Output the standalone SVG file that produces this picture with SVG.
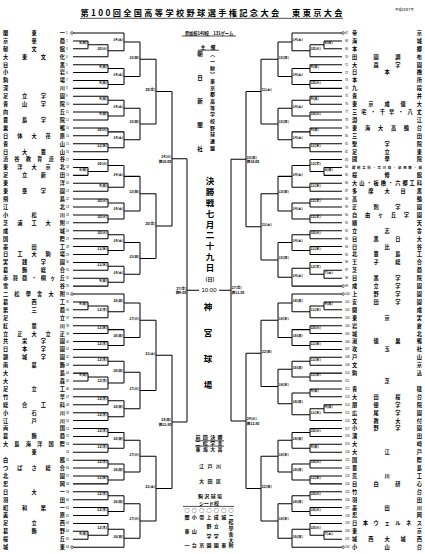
<svg xmlns="http://www.w3.org/2000/svg" width="425" height="554" viewBox="0 0 425 554">
<style>
.c{fill:none;stroke:#000;stroke-width:1}
.u{fill:none;stroke:#000;stroke-width:.7}
text{font-family:"Noto Sans CJK JP","Noto Sans CJK SC",sans-serif;fill:#000}
.n{font-size:5.2px;font-weight:700}
.m{text-anchor:middle}
.no{font-family:"Liberation Sans",sans-serif;font-size:2.8px}
.l{font-size:3.4px;font-weight:700}
.e{text-anchor:end}
.sd{fill:#fff;stroke:#000;stroke-width:.6}
.t{font-weight:700;text-anchor:middle}
.vt{font-weight:700;writing-mode:vertical-rl}
.s{font-size:5px;font-weight:700;text-anchor:middle}
</style>
<rect width="425" height="554" fill="#fff"/>
<g id="title">
<text class="t" x="211.5" y="16" style="font-size:8.2px" textLength="262">第100回全国高等学校野球選手権記念大会　東東京大会</text>
<path class="u" d="M80 18.3H343"/>
<text x="395" y="11" style="font-size:3.3px">平成30年7月</text>
</g>
<g id="bracket" transform="matrix(1 0 0 1.0141 0 1.563)">
<g id="connectors">
<path class="c" d="M73 31H124M73 38.8H88M73 46.6H88M73 54.4H108M73 62.2H108M73 70H108M73 77.8H108M73 85.6H108M73 93.4H108M73 101.2H108M73 109H108M73 116.8H108M73 124.6H108M73 132.4H108M73 140.2H108M73 148H108M73 155.8H108M73 163.6H88M73 171.4H88M73 179.2H108M73 187H108M73 194.8H108M73 202.6H108M73 210.4H108M73 218.2H108M73 226H108M73 233.8H108M73 241.6H108M73 249.4H108M73 257.2H108M73 265H108M73 272.8H108M73 280.6H108M73 288.4H124M73 296.2H88M73 304H88M73 311.8H108M73 319.6H108M73 327.4H108M73 335.2H108M73 343H108M73 350.8H108M73 358.6H108M73 366.4H88M73 374.2H88M73 382H108M73 389.8H108M73 397.6H108M73 405.4H108M73 413.2H108M73 421H108M73 428.8H108M73 436.6H108M73 444.4H108M73 452.2H108M73 460H108M73 467.8H108M73 475.6H108M73 483.4H108M73 491.2H108M73 499H108M73 506.8H108M73 514.6H108M73 522.4H88M73 530.2H88M73 538H124"/>
<path class="c" d="M88 38.8V46.6M88 42.7H108M88 163.6V171.4M88 167.5H108M88 296.2V304M88 300.1H108M88 366.4V374.2M88 370.3H108M88 522.4V530.2M88 526.3H108"/>
<path class="c" d="M108 42.7V54.4M108 48.55H124M108 62.2V70M108 66.1H124M108 77.8V85.6M108 81.7H124M108 93.4V101.2M108 97.3H124M108 109V116.8M108 112.9H124M108 124.6V132.4M108 128.5H124M108 140.2V148M108 144.1H124M108 155.8V167.5M108 161.65H124M108 179.2V187M108 183.1H124M108 194.8V202.6M108 198.7H124M108 210.4V218.2M108 214.3H124M108 226V233.8M108 229.9H124M108 241.6V249.4M108 245.5H124M108 257.2V265M108 261.1H124M108 272.8V280.6M108 276.7H124M108 300.1V311.8M108 305.95H124M108 319.6V327.4M108 323.5H124M108 335.2V343M108 339.1H124M108 350.8V358.6M108 354.7H124M108 370.3V382M108 376.15H124M108 389.8V397.6M108 393.7H124M108 405.4V413.2M108 409.3H124M108 421V428.8M108 424.9H124M108 436.6V444.4M108 440.5H124M108 452.2V460M108 456.1H124M108 467.8V475.6M108 471.7H124M108 483.4V491.2M108 487.3H124M108 499V506.8M108 502.9H124M108 514.6V526.3M108 520.45H124"/>
<path class="c" d="M124 31V48.55M124 39.78H140M124 66.1V81.7M124 73.9H140M124 97.3V112.9M124 105.1H140M124 128.5V144.1M124 136.3H140M124 161.65V183.1M124 172.38H140M124 198.7V214.3M124 206.5H140M124 229.9V245.5M124 237.7H140M124 261.1V276.7M124 268.9H140M124 288.4V305.95M124 297.18H140M124 323.5V339.1M124 331.3H140M124 354.7V376.15M124 365.43H140M124 393.7V409.3M124 401.5H140M124 424.9V440.5M124 432.7H140M124 456.1V471.7M124 463.9H140M124 487.3V502.9M124 495.1H140M124 520.45V538M124 529.23H140"/>
<path class="c" d="M140 39.78V73.9M140 56.84H156M140 105.1V136.3M140 120.7H156M140 172.38V206.5M140 189.44H156M140 237.7V268.9M140 253.3H156M140 297.18V331.3M140 314.24H156M140 365.43V401.5M140 383.47H156M140 432.7V463.9M140 448.3H156M140 495.1V529.23M140 512.17H156"/>
<path class="c" d="M156 56.84V120.7M156 88.77H172M156 189.44V253.3M156 221.37H172M156 314.24V383.47M156 348.86H172M156 448.3V512.17M156 480.24H172M172 88.77V221.37M172 155.07H187M172 348.86V480.24M172 414.55H187M187 155.07V414.55M187 284.7H231"/>
<path class="c" d="M342 31H292M342 38.8H324M342 46.6H324M342 54.4H310M342 62.2H310M342 70H310M342 77.8H310M342 85.6H310M342 93.4H310M342 101.2H310M342 109H310M342 116.8H310M342 124.6H310M342 132.4H310M342 140.2H310M342 148H310M342 155.8H310M342 163.6H324M342 171.4H324M342 179.2H310M342 187H310M342 194.8H310M342 202.6H310M342 210.4H310M342 218.2H310M342 226H310M342 233.8H310M342 241.6H310M342 249.4H310M342 257.2H310M342 265H324M342 272.8H324M342 280.6H292M342 288.4H292M342 296.2H324M342 304H324M342 311.8H310M342 319.6H310M342 327.4H310M342 335.2H310M342 343H310M342 350.8H310M342 358.6H310M342 366.4H310M342 374.2H310M342 382H310M342 389.8H310M342 397.6H324M342 405.4H324M342 413.2H310M342 421H310M342 428.8H310M342 436.6H310M342 444.4H310M342 452.2H310M342 460H310M342 467.8H310M342 475.6H310M342 483.4H310M342 491.2H310M342 499H310M342 506.8H310M342 514.6H310M342 522.4H324M342 530.2H324M342 538H292"/>
<path class="c" d="M324 38.8V46.6M324 42.7H310M324 163.6V171.4M324 167.5H310M324 265V272.8M324 268.9H310M324 296.2V304M324 300.1H310M324 397.6V405.4M324 401.5H310M324 522.4V530.2M324 526.3H310"/>
<path class="c" d="M310 42.7V54.4M310 48.55H292M310 62.2V70M310 66.1H292M310 77.8V85.6M310 81.7H292M310 93.4V101.2M310 97.3H292M310 109V116.8M310 112.9H292M310 124.6V132.4M310 128.5H292M310 140.2V148M310 144.1H292M310 155.8V167.5M310 161.65H292M310 179.2V187M310 183.1H292M310 194.8V202.6M310 198.7H292M310 210.4V218.2M310 214.3H292M310 226V233.8M310 229.9H292M310 241.6V249.4M310 245.5H292M310 257.2V268.9M310 263.05H292M310 300.1V311.8M310 305.95H292M310 319.6V327.4M310 323.5H292M310 335.2V343M310 339.1H292M310 350.8V358.6M310 354.7H292M310 366.4V374.2M310 370.3H292M310 382V389.8M310 385.9H292M310 401.5V413.2M310 407.35H292M310 421V428.8M310 424.9H292M310 436.6V444.4M310 440.5H292M310 452.2V460M310 456.1H292M310 467.8V475.6M310 471.7H292M310 483.4V491.2M310 487.3H292M310 499V506.8M310 502.9H292M310 514.6V526.3M310 520.45H292"/>
<path class="c" d="M292 31V48.55M292 39.78H278M292 66.1V81.7M292 73.9H278M292 97.3V112.9M292 105.1H278M292 128.5V144.1M292 136.3H278M292 161.65V183.1M292 172.38H278M292 198.7V214.3M292 206.5H278M292 229.9V245.5M292 237.7H278M292 263.05V280.6M292 271.83H278M292 288.4V305.95M292 297.18H278M292 323.5V339.1M292 331.3H278M292 354.7V370.3M292 362.5H278M292 385.9V407.35M292 396.63H278M292 424.9V440.5M292 432.7H278M292 456.1V471.7M292 463.9H278M292 487.3V502.9M292 495.1H278M292 520.45V538M292 529.23H278"/>
<path class="c" d="M278 39.78V73.9M278 56.84H261M278 105.1V136.3M278 120.7H261M278 172.38V206.5M278 189.44H261M278 237.7V271.83M278 254.77H261M278 297.18V331.3M278 314.24H261M278 362.5V396.63M278 379.57H261M278 432.7V463.9M278 448.3H261M278 495.1V529.23M278 512.17H261"/>
<path class="c" d="M261 56.84V120.7M261 88.77H246M261 189.44V254.77M261 222.1H246M261 314.24V379.57M261 346.9H246M261 448.3V512.17M261 480.24H246M246 88.77V222.1M246 155.44H231M246 346.9V480.24M246 413.57H231M231 155.44V413.57"/>
</g>
<g id="labels">
<text class="l e" x="87.2" y="42.1">8(日)</text><text class="l e" x="87.2" y="166.9">8(日)</text><text class="l e" x="87.2" y="299.5">9(月)</text><text class="l e" x="87.2" y="369.7">9(月)</text><text class="l e" x="87.2" y="525.7">9(月)</text>
<text class="l e" x="107.2" y="47.95">10(火)</text><text class="l e" x="107.2" y="65.5">9(月)</text><text class="l e" x="107.2" y="81.1">9(月)</text><text class="l e" x="107.2" y="96.7">9(月)</text><text class="l e" x="107.2" y="112.3">9(月)</text><text class="l e" x="107.2" y="127.9">10(火)</text><text class="l e" x="107.2" y="143.5">11(水)</text><text class="l e" x="107.2" y="161.05">10(火)</text><text class="l e" x="107.2" y="182.5">9(月)</text><text class="l e" x="107.2" y="198.1">10(火)</text><text class="l e" x="107.2" y="213.7">10(火)</text><text class="l e" x="107.2" y="229.3">10(火)</text><text class="l e" x="107.2" y="244.9">11(水)</text><text class="l e" x="107.2" y="260.5">11(水)</text><text class="l e" x="107.2" y="276.1">9(月)</text><text class="l e" x="107.2" y="305.35">12(木)</text><text class="l e" x="107.2" y="322.9">11(水)</text><text class="l e" x="107.2" y="338.5">12(木)</text><text class="l e" x="107.2" y="354.1">12(木)</text><text class="l e" x="107.2" y="375.55">12(木)</text><text class="l e" x="107.2" y="393.1">12(木)</text><text class="l e" x="107.2" y="408.7">12(木)</text><text class="l e" x="107.2" y="424.3">12(木)</text><text class="l e" x="107.2" y="439.9">12(木)</text><text class="l e" x="107.2" y="455.5">12(木)</text><text class="l e" x="107.2" y="471.1">11(水)</text><text class="l e" x="107.2" y="486.7">12(木)</text><text class="l e" x="107.2" y="502.3">12(木)</text><text class="l e" x="107.2" y="519.85">12(木)</text>
<text class="l e" x="123.2" y="39.18">14(土)</text><text class="l e" x="123.2" y="73.3">14(土)</text><text class="l e" x="123.2" y="104.5">14(土)</text><text class="l e" x="123.2" y="135.7">14(土)</text><text class="l e" x="123.2" y="171.78">14(土)</text><text class="l e" x="123.2" y="205.9">14(土)</text><text class="l e" x="123.2" y="237.1">14(土)</text><text class="l e" x="123.2" y="268.3">14(土)</text><text class="l e" x="123.2" y="296.58">16(月)</text><text class="l e" x="123.2" y="330.7">16(月)</text><text class="l e" x="123.2" y="364.83">16(月)</text><text class="l e" x="123.2" y="400.9">16(月)</text><text class="l e" x="123.2" y="432.1">16(月)</text><text class="l e" x="123.2" y="463.3">16(月)</text><text class="l e" x="123.2" y="494.5">16(月)</text><text class="l e" x="123.2" y="528.63">16(月)</text>
<text class="l e" x="139.2" y="56.24">15(日)</text><text class="l e" x="139.2" y="120.1">15(日)</text><text class="l e" x="139.2" y="188.84">15(日)</text><text class="l e" x="139.2" y="252.7">15(日)</text><text class="l e" x="139.2" y="313.64">17(火)</text><text class="l e" x="139.2" y="382.87">17(火)</text><text class="l e" x="139.2" y="447.7">17(火)</text><text class="l e" x="139.2" y="511.57">17(火)</text>
<text class="l e" x="155.2" y="88.17">20(金)</text><text class="l e" x="155.2" y="220.77">20(金)</text><text class="l e" x="155.2" y="348.26">21(土)</text><text class="l e" x="155.2" y="479.64">21(土)</text>
<text class="l e" x="171.2" y="154.47">24(火)</text><text class="l e" x="171.2" y="158.87">神10:00</text><text class="l e" x="171.2" y="413.95">23(月)</text><text class="l e" x="171.2" y="418.35">神12:30</text>
<text class="l e" x="186.2" y="284.1">27(金)</text><text class="l e" x="186.2" y="288.5">神9:00</text>
<text class="l" x="324.8" y="42.1">8(日)</text><text class="l" x="324.8" y="166.9">8(日)</text><text class="l" x="324.8" y="268.3">7(土)</text><text class="l" x="324.8" y="299.5">9(月)</text><text class="l" x="324.8" y="400.9">9(月)</text><text class="l" x="324.8" y="525.7">7(土)</text>
<text class="l" x="310.8" y="47.95">10(火)</text><text class="l" x="310.8" y="65.5">9(月)</text><text class="l" x="310.8" y="81.1">10(火)</text><text class="l" x="310.8" y="96.7">9(月)</text><text class="l" x="310.8" y="112.3">10(火)</text><text class="l" x="310.8" y="127.9">9(月)</text><text class="l" x="310.8" y="143.5">11(水)</text><text class="l" x="310.8" y="161.05">12(木)</text><text class="l" x="310.8" y="182.5">11(水)</text><text class="l" x="310.8" y="198.1">12(木)</text><text class="l" x="310.8" y="213.7">12(木)</text><text class="l" x="310.8" y="229.3">10(火)</text><text class="l" x="310.8" y="244.9">11(水)</text><text class="l" x="310.8" y="262.45">12(木)</text><text class="l" x="310.8" y="305.35">11(水)</text><text class="l" x="310.8" y="322.9">10(火)</text><text class="l" x="310.8" y="338.5">11(水)</text><text class="l" x="310.8" y="354.1">11(水)</text><text class="l" x="310.8" y="369.7">11(水)</text><text class="l" x="310.8" y="385.3">9(月)</text><text class="l" x="310.8" y="406.75">11(水)</text><text class="l" x="310.8" y="424.3">10(火)</text><text class="l" x="310.8" y="439.9">9(月)</text><text class="l" x="310.8" y="455.5">10(火)</text><text class="l" x="310.8" y="471.1">11(水)</text><text class="l" x="310.8" y="486.7">10(火)</text><text class="l" x="310.8" y="502.3">10(火)</text><text class="l" x="310.8" y="519.85">10(火)</text>
<text class="l" x="292.8" y="39.18">14(土)</text><text class="l" x="292.8" y="73.3">14(土)</text><text class="l" x="292.8" y="104.5">14(土)</text><text class="l" x="292.8" y="135.7">14(土)</text><text class="l" x="292.8" y="171.78">14(土)</text><text class="l" x="292.8" y="205.9">14(土)</text><text class="l" x="292.8" y="237.1">14(土)</text><text class="l" x="292.8" y="271.23">14(土)</text><text class="l" x="292.8" y="296.58">16(月)</text><text class="l" x="292.8" y="330.7">16(月)</text><text class="l" x="292.8" y="361.9">16(月)</text><text class="l" x="292.8" y="396.03">16(月)</text><text class="l" x="292.8" y="432.1">16(月)</text><text class="l" x="292.8" y="463.3">16(月)</text><text class="l" x="292.8" y="494.5">16(月)</text><text class="l" x="292.8" y="528.63">16(月)</text>
<text class="l" x="278.8" y="56.24">15(日)</text><text class="l" x="278.8" y="120.1">15(日)</text><text class="l" x="278.8" y="188.84">15(日)</text><text class="l" x="278.8" y="254.17">15(日)</text><text class="l" x="278.8" y="313.64">18(水)</text><text class="l" x="278.8" y="378.97">18(水)</text><text class="l" x="278.8" y="447.7">18(水)</text><text class="l" x="278.8" y="511.57">18(水)</text>
<text class="l" x="261.8" y="88.17">21(土)</text><text class="l" x="261.8" y="221.5">21(土)</text><text class="l" x="261.8" y="346.3">22(日)</text><text class="l" x="261.8" y="479.64">22(日)</text>
<text class="l" x="246.8" y="154.84">23(月)</text><text class="l" x="246.8" y="159.24">神10:00</text><text class="l" x="246.8" y="412.97">24(火)</text><text class="l" x="246.8" y="417.37">神12:30</text>
<text class="l" x="231.8" y="283.9">27(金)</text><text class="l" x="231.8" y="288.3">神11:30</text>
</g>
<g id="n1" transform="translate(0 31)"><circle class="sd" cx="72" r="1.3"/><text class="n" x="3" y="1.9" textLength="62">関東一</text><text class="no" x="66" y="1">1</text></g>
<g id="n2" transform="translate(0 38.8)"><text class="n" x="3" y="1.9" textLength="62">京華商</text><text class="no" x="66" y="1">2</text></g>
<g id="n3" transform="translate(0 46.6)"><text class="n" x="3" y="1.9" textLength="62">郁文館</text><text class="no" x="66" y="1">3</text></g>
<g id="n4" transform="translate(0 54.4)"><text class="n" x="3" y="1.9" textLength="62">大東文化</text><text class="no" x="66" y="1">4</text></g>
<g id="n5" transform="translate(0 62.2)"><text class="n" x="3" y="1.9" textLength="62">目黒</text><text class="no" x="66" y="1">5</text></g>
<g id="n6" transform="translate(0 70)"><text class="n" x="3" y="1.9" textLength="62">小岩</text><text class="no" x="66" y="1">6</text></g>
<g id="n7" transform="translate(0 77.8)"><text class="n" x="3" y="1.9" textLength="62">駒場</text><text class="no" x="66" y="1">7</text></g>
<g id="n8" transform="translate(0 85.6)"><text class="n" x="3" y="1.9" textLength="62">深川</text><text class="no" x="66" y="1">8</text></g>
<g id="n9" transform="translate(0 93.4)"><text class="n" x="3" y="1.9" textLength="62">足立学園</text><text class="no" x="66" y="1">9</text></g>
<g id="n10" transform="translate(0 101.2)"><text class="n" x="3" y="1.9" textLength="62">青山学院</text><text class="no" x="66" y="1">10</text></g>
<g id="n11" transform="translate(0 109)"><text class="n" x="3" y="1.9" textLength="62">向丘</text><text class="no" x="66" y="1">11</text></g>
<g id="n12" transform="translate(0 116.8)"><text class="n" x="3" y="1.9" textLength="62">豊島学院</text><text class="no" x="66" y="1">12</text></g>
<g id="n13" transform="translate(0 124.6)"><text class="n" x="3" y="1.9" textLength="62">巣鴨</text><text class="no" x="66" y="1">13</text></g>
<g id="n14" transform="translate(0 132.4)"><text class="n" x="3" y="1.9" textLength="62">日体大荏原</text><text class="no" x="66" y="1">14</text></g>
<g id="n15" transform="translate(0 140.2)"><text class="n" x="3" y="1.9" textLength="62">青山</text><text class="no" x="66" y="1">15</text></g>
<g id="n16" transform="translate(0 148)"><text class="n" x="3" y="1.9" textLength="62">日大豊山</text><text class="no" x="66" y="1">16</text></g>
<g id="n17" transform="translate(0 155.8)"><text class="n" x="3" y="1.9" textLength="62">渋谷教育渋谷</text><text class="no" x="66" y="1">17</text></g>
<g id="n18" transform="translate(0 163.6)"><text class="n" x="3" y="1.9" textLength="62">東洋大京北</text><text class="no" x="66" y="1">18</text></g>
<g id="n19" transform="translate(0 171.4)"><text class="n" x="3" y="1.9" textLength="62">足立新田</text><text class="no" x="66" y="1">19</text></g>
<g id="n20" transform="translate(0 179.2)"><text class="n" x="3" y="1.9" textLength="62">東洋</text><text class="no" x="66" y="1">20</text></g>
<g id="n21" transform="translate(0 187)"><text class="n" x="3" y="1.9" textLength="62">東亜学園</text><text class="no" x="66" y="1">21</text></g>
<g id="n22" transform="translate(0 194.8)"><text class="n" x="3" y="1.9" textLength="62">飛鳥</text><text class="no" x="66" y="1">22</text></g>
<g id="n23" transform="translate(0 202.6)"><text class="n" x="3" y="1.9" textLength="62">江北</text><text class="no" x="66" y="1">23</text></g>
<g id="n24" transform="translate(0 210.4)"><text class="n" x="3" y="1.9" textLength="62">小松川</text><text class="no" x="66" y="1">24</text></g>
<g id="n25" transform="translate(0 218.2)"><text class="n" x="3" y="1.9" textLength="62">芝浦工大附</text><text class="no" x="66" y="1">25</text></g>
<g id="n26" transform="translate(0 226)"><text class="n" x="3" y="1.9" textLength="62">成城</text><text class="no" x="66" y="1">26</text></g>
<g id="n27" transform="translate(0 233.8)"><text class="n" x="3" y="1.9" textLength="62">国際</text><text class="no" x="66" y="1">27</text></g>
<g id="n28" transform="translate(0 241.6)"><text class="n" x="3" y="1.9" textLength="62">墨田工</text><text class="no" x="66" y="1">28</text></g>
<g id="n29" transform="translate(0 249.4)"><text class="n" x="3" y="1.9" textLength="62">日工大駒場</text><text class="no" x="66" y="1">29</text></g>
<g id="n30" transform="translate(0 257.2)"><text class="n" x="3" y="1.9" textLength="62">実践学園</text><text class="no" x="66" y="1">30</text></g>
<g id="n31" transform="translate(0 265)"><text class="n" x="3" y="1.9" textLength="62">葛飾総合</text><text class="no" x="66" y="1">31</text></g>
<g id="n32" transform="translate(0 272.8)"><text class="n" x="3" y="1.9" textLength="62">赤羽商・桐ヶ丘</text><text class="no" x="66" y="1">32</text></g>
<g id="n33" transform="translate(0 280.6)"><text class="n" x="3" y="1.9" textLength="62">雪谷</text><text class="no" x="66" y="1">33</text></g>
<g id="n34" transform="translate(0 288.4)"><circle class="sd" cx="72" r="1.3"/><text class="n" x="3" y="1.9" textLength="62">二松學舍大附</text><text class="no" x="66" y="1">34</text></g>
<g id="n35" transform="translate(0 296.2)"><text class="n" x="3" y="1.9" textLength="62">葛西工</text><text class="no" x="66" y="1">35</text></g>
<g id="n36" transform="translate(0 304)"><text class="n" x="3" y="1.9" textLength="62">第三商</text><text class="no" x="66" y="1">36</text></g>
<g id="n37" transform="translate(0 311.8)"><text class="n" x="3" y="1.9" textLength="62">足立</text><text class="no" x="66" y="1">37</text></g>
<g id="n38" transform="translate(0 319.6)"><text class="n" x="3" y="1.9" textLength="62">紅葉川</text><text class="no" x="66" y="1">38</text></g>
<g id="n39" transform="translate(0 327.4)"><text class="n" x="3" y="1.9" textLength="62">立正大立正</text><text class="no" x="66" y="1">39</text></g>
<g id="n40" transform="translate(0 335.2)"><text class="n" x="3" y="1.9" textLength="62">共栄学園</text><text class="no" x="66" y="1">40</text></g>
<g id="n41" transform="translate(0 343)"><text class="n" x="3" y="1.9" textLength="62">日本学園</text><text class="no" x="66" y="1">41</text></g>
<g id="n42" transform="translate(0 350.8)"><text class="n" x="3" y="1.9" textLength="62">錦城学園</text><text class="no" x="66" y="1">42</text></g>
<g id="n43" transform="translate(0 358.6)"><text class="n" x="3" y="1.9" textLength="62">南葛飾</text><text class="no" x="66" y="1">43</text></g>
<g id="n44" transform="translate(0 366.4)"><text class="n" x="3" y="1.9" textLength="62">大島</text><text class="no" x="66" y="1">44</text></g>
<g id="n45" transform="translate(0 374.2)"><text class="n" x="3" y="1.9" textLength="62">大森</text><text class="no" x="66" y="1">45</text></g>
<g id="n46" transform="translate(0 382)"><text class="n" x="3" y="1.9" textLength="62">足立工</text><text class="no" x="66" y="1">46</text></g>
<g id="n47" transform="translate(0 389.8)"><text class="n" x="3" y="1.9" textLength="62">竹早</text><text class="no" x="66" y="1">47</text></g>
<g id="n48" transform="translate(0 397.6)"><text class="n" x="3" y="1.9" textLength="62">総合工科</text><text class="no" x="66" y="1">48</text></g>
<g id="n49" transform="translate(0 405.4)"><text class="n" x="3" y="1.9" textLength="62">小石川</text><text class="no" x="66" y="1">49</text></g>
<g id="n50" transform="translate(0 413.2)"><text class="n" x="3" y="1.9" textLength="62">江戸川</text><text class="no" x="66" y="1">50</text></g>
<g id="n51" transform="translate(0 421)"><text class="n" x="3" y="1.9" textLength="62">両国</text><text class="no" x="66" y="1">51</text></g>
<g id="n52" transform="translate(0 428.8)"><text class="n" x="3" y="1.9" textLength="62">葛飾商</text><text class="no" x="66" y="1">52</text></g>
<g id="n53" transform="translate(0 436.6)"><text class="n" x="3" y="1.9" textLength="62">大島海洋国際</text><text class="no" x="66" y="1">53</text></g>
<g id="n54" transform="translate(0 444.4)"><text class="n m" x="34" y="1.9">東</text><text class="no" x="66" y="1">54</text></g>
<g id="n55" transform="translate(0 452.2)"><text class="n" x="3" y="1.9" textLength="62">白鴎</text><text class="no" x="66" y="1">55</text></g>
<g id="n56" transform="translate(0 460)"><text class="n" x="3" y="1.9" textLength="62">つばさ総合</text><text class="no" x="66" y="1">56</text></g>
<g id="n57" transform="translate(0 467.8)"><text class="n" x="3" y="1.9" textLength="62">北園</text><text class="no" x="66" y="1">57</text></g>
<g id="n58" transform="translate(0 475.6)"><text class="n" x="3" y="1.9" textLength="62">忍岡</text><text class="no" x="66" y="1">58</text></g>
<g id="n59" transform="translate(0 483.4)"><text class="n" x="3" y="1.9" textLength="62">日大一</text><text class="no" x="66" y="1">59</text></g>
<g id="n60" transform="translate(0 491.2)"><text class="n" x="3" y="1.9" textLength="62">羽田</text><text class="no" x="66" y="1">60</text></g>
<g id="n61" transform="translate(0 499)"><text class="n" x="3" y="1.9" textLength="62">昭和第一</text><text class="no" x="66" y="1">61</text></g>
<g id="n62" transform="translate(0 506.8)"><text class="n" x="3" y="1.9" textLength="62">美原</text><text class="no" x="66" y="1">62</text></g>
<g id="n63" transform="translate(0 514.6)"><text class="n" x="3" y="1.9" textLength="62">足立西</text><text class="no" x="66" y="1">63</text></g>
<g id="n64" transform="translate(0 522.4)"><text class="n" x="3" y="1.9" textLength="62">葛飾野</text><text class="no" x="66" y="1">64</text></g>
<g id="n65" transform="translate(0 530.2)"><text class="n" x="3" y="1.9" textLength="62">桜丘</text><text class="no" x="66" y="1">65</text></g>
<g id="n66" transform="translate(0 538)"><circle class="sd" cx="72" r="1.3"/><text class="n" x="3" y="1.9" textLength="62">城東</text><text class="no" x="66" y="1">66</text></g>
<g id="n67" transform="translate(0 31)"><circle class="sd" cx="343" r="1.3"/><text class="no" x="345" y="1">67</text><text class="n" x="352" y="1.9" textLength="70">帝京</text></g>
<g id="n68" transform="translate(0 38.8)"><text class="no" x="345" y="1">68</text><text class="n" x="352" y="1.9" textLength="70">海城</text></g>
<g id="n69" transform="translate(0 46.6)"><text class="no" x="345" y="1">69</text><text class="n" x="352" y="1.9" textLength="70">本郷</text></g>
<g id="n70" transform="translate(0 54.4)"><text class="no" x="345" y="1">70</text><text class="n" x="352" y="1.9" textLength="70">田園調布</text></g>
<g id="n71" transform="translate(0 62.2)"><text class="no" x="345" y="1">71</text><text class="n" x="352" y="1.9" textLength="70">大森学園</text></g>
<g id="n72" transform="translate(0 70)"><text class="no" x="345" y="1">72</text><text class="n" x="352" y="1.9" textLength="70">日本橋</text></g>
<g id="n73" transform="translate(0 77.8)"><text class="no" x="345" y="1">73</text><text class="n" x="352" y="1.9" textLength="70">本所</text></g>
<g id="n74" transform="translate(0 85.6)"><text class="no" x="345" y="1">74</text><text class="n" x="352" y="1.9" textLength="70">九段</text></g>
<g id="n75" transform="translate(0 93.4)"><text class="no" x="345" y="1">75</text><text class="n" x="352" y="1.9" textLength="70">青井</text></g>
<g id="n76" transform="translate(0 101.2)"><text class="no" x="345" y="1">76</text><text class="n" x="352" y="1.9" textLength="70">東京成徳大</text></g>
<g id="n77" transform="translate(0 109)"><text class="no" x="345" y="1">77</text><text class="n" x="352" y="1.9" textLength="70">三宅・千早・八丈</text></g>
<g id="n78" transform="translate(0 116.8)"><text class="no" x="345" y="1">78</text><text class="n" x="352" y="1.9" textLength="70">淵江</text></g>
<g id="n79" transform="translate(0 124.6)"><text class="no" x="345" y="1">79</text><text class="n" x="352" y="1.9" textLength="70">東海大高輪台</text></g>
<g id="n80" transform="translate(0 132.4)"><text class="no" x="345" y="1">80</text><text class="n" x="352" y="1.9" textLength="70">三田</text></g>
<g id="n81" transform="translate(0 140.2)"><text class="no" x="345" y="1">81</text><text class="n" x="352" y="1.9" textLength="70">聖学院</text></g>
<g id="n82" transform="translate(0 148)"><text class="no" x="345" y="1">82</text><text class="n" x="352" y="1.9" textLength="70">足立東</text></g>
<g id="n83" transform="translate(0 155.8)"><text class="no" x="345" y="1">83</text><text class="n" x="352" y="1.9" textLength="70">國學院</text></g>
<g id="n84" transform="translate(0 163.6)"><text class="no" x="345" y="1">84</text><text class="n" x="352" y="1.2" textLength="70" style="font-size:3.4px">蔵前工科・荒川商・葛西南・橘</text></g>
<g id="n85" transform="translate(0 171.4)"><text class="no" x="345" y="1">85</text><text class="n" x="352" y="1.9" textLength="70">桜修館</text></g>
<g id="n86" transform="translate(0 179.2)"><text class="no" x="345" y="1">86</text><text class="n" x="352" y="1.9" textLength="70">大山・板橋・六郷工科</text></g>
<g id="n87" transform="translate(0 187)"><text class="no" x="345" y="1">87</text><text class="n" x="352" y="1.9" textLength="70">多摩大目黒</text></g>
<g id="n88" transform="translate(0 194.8)"><text class="no" x="345" y="1">88</text><text class="n" x="352" y="1.9" textLength="70">高輪</text></g>
<g id="n89" transform="translate(0 202.6)"><text class="no" x="345" y="1">89</text><text class="n" x="352" y="1.9" textLength="70">正則学園</text></g>
<g id="n90" transform="translate(0 210.4)"><text class="no" x="345" y="1">90</text><text class="n" x="352" y="1.9" textLength="70">自由ヶ丘学園</text></g>
<g id="n91" transform="translate(0 218.2)"><text class="no" x="345" y="1">91</text><text class="n" x="352" y="1.9" textLength="70">順天</text></g>
<g id="n92" transform="translate(0 226)"><text class="no" x="345" y="1">92</text><text class="n" x="352" y="1.9" textLength="70">立志舎</text></g>
<g id="n93" transform="translate(0 233.8)"><text class="no" x="345" y="1">93</text><text class="n" x="352" y="1.9" textLength="70">目黒日大</text></g>
<g id="n94" transform="translate(0 241.6)"><text class="no" x="345" y="1">94</text><text class="n" x="352" y="1.9" textLength="70">日比谷</text></g>
<g id="n95" transform="translate(0 249.4)"><text class="no" x="345" y="1">95</text><text class="n" x="352" y="1.9" textLength="70">北豊島工</text></g>
<g id="n96" transform="translate(0 257.2)"><text class="no" x="345" y="1">96</text><text class="n" x="352" y="1.9" textLength="70">王子総合</text></g>
<g id="n97" transform="translate(0 265)"><text class="no" x="345" y="1">97</text><text class="n" x="352" y="1.9" textLength="70">芝商</text></g>
<g id="n98" transform="translate(0 272.8)"><text class="no" x="345" y="1">98</text><text class="n" x="352" y="1.9" textLength="70">目黒学院</text></g>
<g id="n99" transform="translate(0 280.6)"><circle class="sd" cx="343" r="1.3"/><text class="no" x="345" y="1">99</text><text class="n" x="352" y="1.9" textLength="70">成立学園</text></g>
<g id="n100" transform="translate(0 288.4)"><circle class="sd" cx="343" r="1.3"/><text class="no" x="345" y="1">100</text><text class="n" x="352" y="1.9" textLength="70">上野学園</text></g>
<g id="n101" transform="translate(0 296.2)"><text class="no" x="345" y="1">101</text><text class="n" x="352" y="1.9" textLength="70">安田学園</text></g>
<g id="n102" transform="translate(0 304)"><text class="no" x="345" y="1">102</text><text class="n" x="352" y="1.9" textLength="70">開成</text></g>
<g id="n103" transform="translate(0 311.8)"><text class="no" x="345" y="1">103</text><text class="n" x="352" y="1.9" textLength="70">東京実</text></g>
<g id="n104" transform="translate(0 319.6)"><text class="no" x="345" y="1">104</text><text class="n" x="352" y="1.9" textLength="70">岩倉</text></g>
<g id="n105" transform="translate(0 327.4)"><text class="no" x="345" y="1">105</text><text class="n" x="352" y="1.9" textLength="70">城北</text></g>
<g id="n106" transform="translate(0 335.2)"><text class="no" x="345" y="1">106</text><text class="n" x="352" y="1.9" textLength="70">淑徳巣鴨</text></g>
<g id="n107" transform="translate(0 343)"><text class="no" x="345" y="1">107</text><text class="n" x="352" y="1.9" textLength="70">攻玉社</text></g>
<g id="n108" transform="translate(0 350.8)"><text class="no" x="345" y="1">108</text><text class="n" x="352" y="1.9" textLength="70">戸山</text></g>
<g id="n109" transform="translate(0 358.6)"><text class="no" x="345" y="1">109</text><text class="n" x="352" y="1.9" textLength="70">文京</text></g>
<g id="n110" transform="translate(0 366.4)"><text class="no" x="345" y="1">110</text><text class="n" x="352" y="1.9" textLength="70">駒込</text></g>
<g id="n111" transform="translate(0 374.2)"><text class="no" x="345" y="1">111</text><text class="n m" x="387" y="1.9">芝</text></g>
<g id="n112" transform="translate(0 382)"><text class="no" x="345" y="1">112</text><text class="n" x="352" y="1.9" textLength="70">青稜</text></g>
<g id="n113" transform="translate(0 389.8)"><text class="no" x="345" y="1">113</text><text class="n" x="352" y="1.9" textLength="70">大田桜台</text></g>
<g id="n114" transform="translate(0 397.6)"><text class="no" x="345" y="1">114</text><text class="n" x="352" y="1.9" textLength="70">朋優学院</text></g>
<g id="n115" transform="translate(0 405.4)"><text class="no" x="345" y="1">115</text><text class="n" x="352" y="1.9" textLength="70">広尾学園</text></g>
<g id="n116" transform="translate(0 413.2)"><text class="no" x="345" y="1">116</text><text class="n" x="352" y="1.9" textLength="70">文教大付</text></g>
<g id="n117" transform="translate(0 421)"><text class="no" x="345" y="1">117</text><text class="n" x="352" y="1.9" textLength="70">小野学園</text></g>
<g id="n118" transform="translate(0 428.8)"><text class="no" x="345" y="1">118</text><text class="n" x="352" y="1.9" textLength="70">蒲田</text></g>
<g id="n119" transform="translate(0 436.6)"><text class="no" x="345" y="1">119</text><text class="n" x="352" y="1.9" textLength="70">大崎</text></g>
<g id="n120" transform="translate(0 444.4)"><text class="no" x="345" y="1">120</text><text class="n" x="352" y="1.9" textLength="70">大江戸</text></g>
<g id="n121" transform="translate(0 452.2)"><text class="no" x="345" y="1">121</text><text class="n" x="352" y="1.9" textLength="70">国際</text></g>
<g id="n122" transform="translate(0 460)"><text class="no" x="345" y="1">122</text><text class="n" x="352" y="1.9" textLength="70">豊島</text></g>
<g id="n123" transform="translate(0 467.8)"><text class="no" x="345" y="1">123</text><text class="n" x="352" y="1.9" textLength="70">荒川工</text></g>
<g id="n124" transform="translate(0 475.6)"><text class="no" x="345" y="1">124</text><text class="n" x="352" y="1.9" textLength="70">目白研心</text></g>
<g id="n125" transform="translate(0 483.4)"><text class="no" x="345" y="1">125</text><text class="n" x="352" y="1.9" textLength="70">竹台</text></g>
<g id="n126" transform="translate(0 491.2)"><text class="no" x="345" y="1">126</text><text class="n" x="352" y="1.9" textLength="70">羽田</text></g>
<g id="n127" transform="translate(0 499)"><text class="no" x="345" y="1">127</text><text class="n" x="352" y="1.9" textLength="70">墨田川</text></g>
<g id="n128" transform="translate(0 506.8)"><text class="no" x="345" y="1">128</text><text class="n" x="352" y="1.9" textLength="70">忍岡</text></g>
<g id="n129" transform="translate(0 514.6)"><text class="no" x="345" y="1">129</text><text class="n" x="352" y="1.9" textLength="70">日本ウェルネス</text></g>
<g id="n130" transform="translate(0 522.4)"><text class="no" x="345" y="1">130</text><text class="n" x="352" y="1.9" textLength="70">東京</text></g>
<g id="n131" transform="translate(0 530.2)"><text class="no" x="345" y="1">131</text><text class="n" x="352" y="1.9" textLength="70">城西大城西</text></g>
<g id="n132" transform="translate(0 538)"><circle class="sd" cx="343" r="1.3"/><text class="no" x="345" y="1">132</text><text class="n" x="352" y="1.9" textLength="70">小山台</text></g>
</g>
<g id="center">
<text class="t" x="209" y="34.5" style="font-size:4.2px">参加校140校　131ゲーム</text>
<path class="u" d="M182 36H236"/>
<text class="t" x="208" y="48.6" style="font-size:5px">主　催</text>
<path class="u" d="M198 50.2H219"/>
<text class="vt" x="200" y="51" style="font-size:5.5px;letter-spacing:18.3px">朝日新聞社</text>
<text class="vt" x="212.5" y="52" style="font-size:5px;letter-spacing:1.66px">（一財）東京都高等学校野球連盟</text>
<text class="vt" x="210" y="177" style="font-size:8.5px;letter-spacing:2.3px">決勝戦七月二十九日</text>
<text class="t" x="210" y="281" style="font-size:5px">(日)</text>
<rect x="199" y="286.6" width="20" height="7.4" fill="#fff"/>
<text class="m" x="209" y="292.4" style="font-size:6px;font-family:'Liberation Sans',sans-serif">10:00</text>
<text class="vt" x="208" y="302.5" style="font-size:8.5px;letter-spacing:17.5px">神宮球場</text>
<text class="s" x="209" y="439" textLength="27">前回決勝</text>
<path class="u" d="M195 440.8H224"/>
<text class="s" x="209" y="444.6" textLength="27">二松学舎</text>
<path class="u" d="M195 446.1H224"/>
<text class="s" x="209" y="450.6" textLength="27">東海大高</text>
<text class="s" x="210" y="468" textLength="22">江戸川</text>
<text class="s" x="210" y="483" textLength="22">大田区</text>
<text class="s" x="210" y="498" textLength="24">駒沢球場</text>
<text class="s" x="209" y="504.5">シード校</text>
<path class="u" d="M183 506.4H234"/>
<text class="s" x="187" y="511.6">○</text><text class="s" x="194.3" y="511.6">○</text><text class="s" x="201.7" y="511.6">○</text><text class="s" x="209" y="511.6">○</text><text class="s" x="216.3" y="511.6">○</text><text class="s" x="223.7" y="511.6">○</text><text class="s" x="231" y="511.6">○</text>
<text class="s" x="187" y="518.6">関</text><text class="s" x="187" y="533">東</text><text class="s" x="187" y="547.4">一</text>
<text class="s" x="194.3" y="518.6">小</text><text class="s" x="194.3" y="533">山</text><text class="s" x="194.3" y="547.4">台</text>
<text class="s" x="201.7" y="518.6">帝</text><text class="s" x="201.7" y="547.4">京</text>
<text class="s" x="209" y="518.6">上</text><text class="s" x="209" y="528.2">野</text><text class="s" x="209" y="537.8">学</text><text class="s" x="209" y="547.4">園</text>
<text class="s" x="216.3" y="518.6">成</text><text class="s" x="216.3" y="528.2">立</text><text class="s" x="216.3" y="537.8">学</text><text class="s" x="216.3" y="547.4">園</text>
<text class="s" x="223.7" y="518.6">城</text><text class="s" x="223.7" y="547.4">東</text>
<text class="s" x="231" y="518.6">二</text><text class="s" x="231" y="524.4">松</text><text class="s" x="231" y="530.2">學</text><text class="s" x="231" y="536">舍</text><text class="s" x="231" y="541.8">大</text><text class="s" x="231" y="547.4">附</text>
</g>
</svg>
